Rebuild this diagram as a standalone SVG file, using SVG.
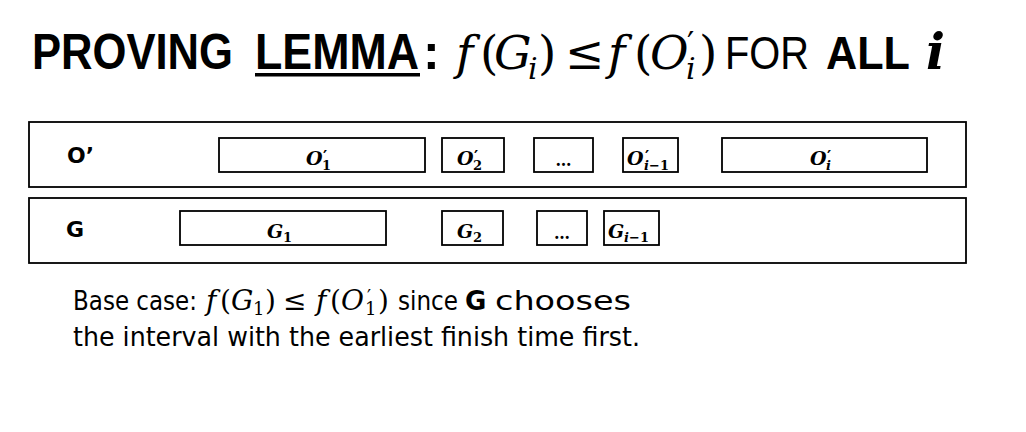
<svg xmlns="http://www.w3.org/2000/svg" width="1026" height="432" viewBox="0 0 1026 432">
<style>
.t{font-family:"DejaVu Sans","Liberation Sans",sans-serif;fill:#000}
.h{font-family:"Liberation Sans","DejaVu Sans",sans-serif;fill:#000}
.m{font-family:"DejaVu Serif","Liberation Serif",serif;font-style:italic;fill:#000}
.u{font-family:"DejaVu Serif","Liberation Serif",serif;fill:#000}
.bx{fill:#fff;stroke:#000;stroke-width:1.8}
.row{fill:#fff;stroke:#000;stroke-width:1.8}
.lb{font-family:"DejaVu Serif","Liberation Serif",serif;font-style:italic;font-weight:700;fill:#000}
.lu{font-family:"DejaVu Serif","Liberation Serif",serif;font-weight:700;fill:#000}
</style>
<rect width="1026" height="432" fill="#fff"/>
<g id="title">
<text class="h" x="32" y="69" font-size="50" font-weight="700" textLength="201" lengthAdjust="spacingAndGlyphs">PROVING</text>
<text class="h" x="255" y="69" font-size="50" font-weight="700" textLength="164" lengthAdjust="spacingAndGlyphs">LEMMA</text>
<rect x="255" y="73" width="165" height="3.5" fill="#000"/>
<text class="h" x="423" y="69" font-size="50" font-weight="700">:</text>
<text class="m" x="456" y="69" font-size="47">f</text>
<text class="u" x="480" y="69" font-size="47">(</text>
<text class="m" x="494" y="69" font-size="47">G</text>
<text class="m" x="528" y="79" font-size="30">i</text>
<text class="u" x="538" y="69" font-size="47">)</text>
<text class="u" x="565" y="69" font-size="47">≤</text>
<text class="m" x="608" y="69" font-size="47">f</text>
<text class="u" x="634" y="69" font-size="47">(</text>
<text class="m" x="650" y="69" font-size="47">O</text>
<text class="u" x="687" y="54" font-size="32">′</text>
<text class="m" x="686" y="79" font-size="30">i</text>
<text class="u" x="699" y="69" font-size="47">)</text>
<text class="h" x="725" y="69" font-size="47" textLength="84" lengthAdjust="spacingAndGlyphs">FOR</text>
<text class="h" x="826" y="69" font-size="47" font-weight="700" textLength="84" lengthAdjust="spacingAndGlyphs">ALL</text>
<text class="m" x="926" y="69" font-size="50" font-weight="700">i</text>
</g>
<g id="row-O">
<rect class="row" x="29" y="122" width="937" height="65"/>
<text class="t" x="67" y="163" font-size="22" font-weight="700">O’</text>
</g>
<g id="row-G">
<rect class="row" x="29" y="198" width="937" height="65"/>
<text class="t" x="66" y="237" font-size="22" font-weight="700">G</text>
</g>
<g id="O1">
<rect class="bx" x="219" y="138" width="206" height="34"/>
<text class="lb" x="306" y="165" font-size="19">O</text>
<text class="lu" x="323" y="162" font-size="16">′</text>
<text class="lu" x="322" y="170" font-size="13">1</text>
</g>
<g id="O2">
<rect class="bx" x="442" y="138" width="62" height="34"/>
<text class="lb" x="457" y="165" font-size="19">O</text>
<text class="lu" x="474" y="162" font-size="16">′</text>
<text class="lu" x="473" y="170" font-size="13">2</text>
</g>
<g id="Odots">
<rect class="bx" x="534" y="138" width="59" height="34"/>
<text class="lu" x="563.5" y="166" font-size="16" text-anchor="middle">…</text>
</g>
<g id="Oim1">
<rect class="bx" x="623" y="138" width="55" height="34"/>
<text class="lb" x="627" y="165" font-size="19">O</text>
<text class="lu" x="645" y="162" font-size="16">′</text>
<text class="lb" x="644" y="170" font-size="13">i</text>
<text class="lu" x="649" y="170" font-size="13">−1</text>
</g>
<g id="Oi">
<rect class="bx" x="722" y="138" width="205" height="34"/>
<text class="lb" x="810" y="165" font-size="19">O</text>
<text class="lu" x="827" y="162" font-size="16">′</text>
<text class="lb" x="826" y="170" font-size="13">i</text>
</g>
<g id="G1">
<rect class="bx" x="180" y="211" width="206" height="34"/>
<text class="lb" x="267" y="238" font-size="19">G</text>
<text class="lu" x="283" y="242" font-size="13">1</text>
</g>
<g id="G2">
<rect class="bx" x="442" y="211" width="61" height="34"/>
<text class="lb" x="457" y="238" font-size="19">G</text>
<text class="lu" x="473" y="242" font-size="13">2</text>
</g>
<g id="Gdots">
<rect class="bx" x="537" y="211" width="50" height="34"/>
<text class="lu" x="562" y="239" font-size="16" text-anchor="middle">…</text>
</g>
<g id="Gim1">
<rect class="bx" x="604" y="211" width="55" height="34"/>
<text class="lb" x="608" y="238" font-size="19">G</text>
<text class="lb" x="624" y="242" font-size="13">i</text>
<text class="lu" x="629" y="242" font-size="13">−1</text>
</g>
<g id="connectors"></g>
<g id="caption">
<text class="t" x="73" y="310" font-size="26" textLength="124" lengthAdjust="spacingAndGlyphs">Base case:</text>
<text class="m" x="206" y="310" font-size="28">f</text>
<text class="u" x="220" y="310" font-size="28">(</text>
<text class="m" x="231" y="310" font-size="28">G</text>
<text class="u" x="253" y="315" font-size="18">1</text>
<text class="u" x="265" y="310" font-size="28">)</text>
<text class="u" x="283" y="310" font-size="28">≤</text>
<text class="m" x="316" y="310" font-size="28">f</text>
<text class="u" x="330" y="310" font-size="28">(</text>
<text class="m" x="341" y="310" font-size="28">O</text>
<text class="u" x="367" y="303" font-size="18">′</text>
<text class="u" x="365" y="315" font-size="18">1</text>
<text class="u" x="378" y="310" font-size="28">)</text>
<text class="t" x="398" y="310" font-size="26" textLength="60" lengthAdjust="spacingAndGlyphs">since</text>
<text class="t" x="465" y="310" font-size="26" font-weight="700">G</text>
<text class="t" x="495" y="310" font-size="26" textLength="136" lengthAdjust="spacingAndGlyphs">chooses</text>
<text class="t" x="73" y="346" font-size="26" textLength="567" lengthAdjust="spacingAndGlyphs">the interval with the earliest finish time first.</text>
</g>
</svg>
